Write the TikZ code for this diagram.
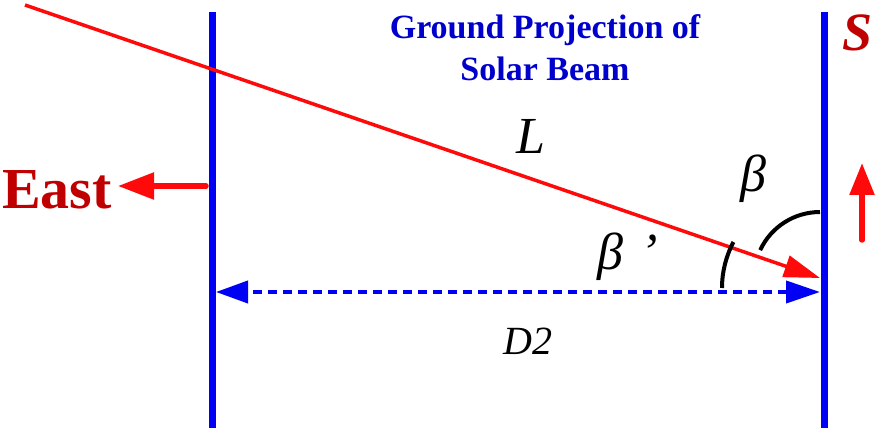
\documentclass[tikz,border=0pt]{standalone}
\usepackage{fontspec}
\setmainfont{Liberation Serif}
\usetikzlibrary{arrows.meta}
\definecolor{beamred}{RGB}{255,10,10}
\definecolor{txtred}{RGB}{192,0,0}
\definecolor{wallblue}{RGB}{0,0,245}
\definecolor{txtblue}{RGB}{0,0,205}
\tikzset{
  wall/.style={draw=wallblue, line width=7pt},
  beam/.style={draw=beamred, line width=3.5pt, -{Triangle[length=36pt,width=22pt]}},
  dim/.style={draw=wallblue, line width=4pt, dash pattern=on 9pt off 6pt,
    {Triangle[length=34pt,width=22pt]}-{Triangle[length=32pt,width=22pt]}},
  dirarrow/.style={draw=beamred, line width=5.5pt, line cap=round, -{Triangle[length=36pt,width=26pt]}},
  anglearc/.style={draw=black, line width=4pt},
  lbl/.style={inner sep=0pt, anchor=center}
}
\begin{document}
\begin{tikzpicture}[x=1pt,y=-1pt]
\useasboundingbox (0,0) rectangle (883,435);
% walls
\coordinate (lwT) at (212,12);
\coordinate (lwB) at (212,428);
\coordinate (rwT) at (824,12);
\coordinate (rwB) at (824,428);
\draw[wall] (lwT) -- (lwB);
\draw[wall] (rwT) -- (rwB);
% solar beam
\coordinate (bS) at (25,5);
\coordinate (bE) at (820,278);
\draw[beam] (bS) -- (bE);
% dimension D2
\coordinate (dL) at (216,292);
\coordinate (dR) at (820,292);
\draw[dim] (dR) -- (dL);
% angle arcs
\draw[anglearc] (bE) ++(-90:66) arc[start angle=-90, end angle=-155, radius=66];
\draw[anglearc] (820,288) ++(180:98) arc[start angle=180, end angle=208, radius=98];
% direction arrows
\coordinate (eS) at (206,186);
\coordinate (eE) at (118,186);
\draw[dirarrow] (eS) -- (eE);
\coordinate (sS) at (862,240);
\coordinate (sE) at (862,163);
\draw[dirarrow, -{Triangle[length=32pt,width=24pt]}] (sS) -- (sE);
% labels
\node[lbl, text=txtred, font=\fontsize{58}{60}\selectfont\bfseries] (east) at (57,190) {East};
\node[lbl, text=txtred, font=\fontsize{54}{56}\selectfont\bfseries\itshape] (south) at (858,33) {S};
\node[lbl, text=txtblue, font=\fontsize{34}{42}\selectfont\bfseries, align=center] (gp) at (545,48) {Ground Projection of\\Solar Beam};
\node[lbl, font=\fontsize{52}{54}\selectfont\itshape] (L) at (531,136) {L};
\node[lbl, font=\fontsize{52}{54}\selectfont\itshape] (beta) at (753,179) {β};
\node[lbl, font=\fontsize{52}{54}\selectfont\itshape] (betap) at (628,257) {β\,\,’};
\node[lbl, font=\fontsize{40}{42}\selectfont\itshape] (d2) at (528,341) {D2};
\end{tikzpicture}
\end{document}
